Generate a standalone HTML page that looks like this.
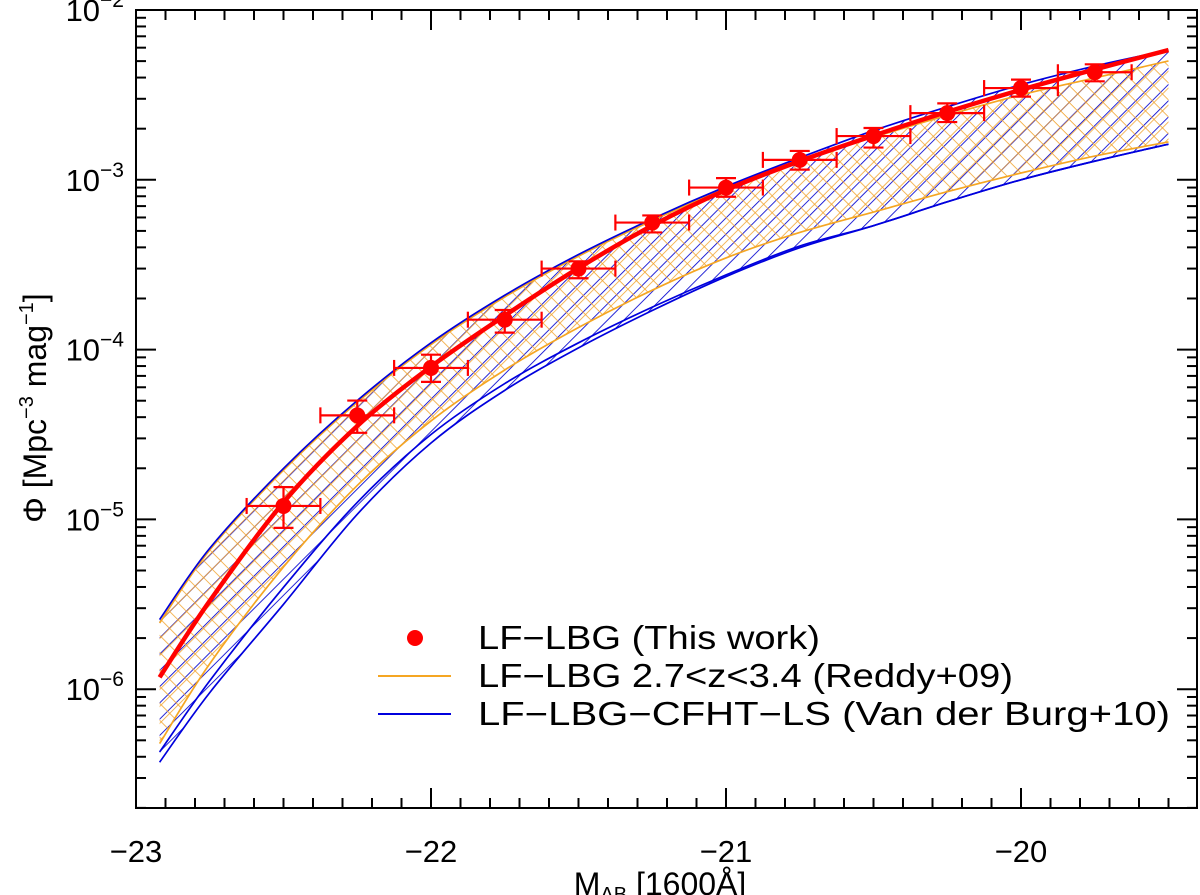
<!DOCTYPE html>
<html><head><meta charset="utf-8"><style>
html,body{margin:0;padding:0;background:#fff;}
svg{display:block;font-family:"Liberation Sans",Arial,sans-serif;}
</style></head><body>
<svg id="chart" width="1200" height="895" viewBox="0 0 1200 895" xmlns="http://www.w3.org/2000/svg">
<defs>
<pattern id="hatchBlue" patternUnits="userSpaceOnUse" width="11.5" height="11.5" patternTransform="rotate(45)">
<line x1="0" y1="0" x2="0" y2="11.5" stroke="#0000d0" stroke-width="1.7"/>
</pattern>
<pattern id="hatchOrange" patternUnits="userSpaceOnUse" width="12" height="12" patternTransform="rotate(45)">
<line x1="0" y1="0" x2="0" y2="12" stroke="#f2a531" stroke-width="1.6"/>
<line x1="0" y1="0" x2="12" y2="0" stroke="#f2a531" stroke-width="1.6"/>
</pattern>
</defs>
<g id="plot"></g>
<text x="660" y="895" font-size="32" text-anchor="middle">M<tspan font-size="20" dy="6">AB</tspan><tspan dy="-6"> [1600Å]</tspan></text>
<text transform="translate(46,408) rotate(-90)" font-size="32" text-anchor="middle">Φ [Mpc<tspan font-size="20" dy="-13">−3</tspan><tspan dy="13"> mag</tspan><tspan font-size="20" dy="-13">−1</tspan><tspan dy="13">]</tspan></text>
<g font-size="33">
<circle cx="415" cy="638" r="8" fill="#ff0000"/>
<text x="478" y="649" textLength="342" lengthAdjust="spacingAndGlyphs">LF−LBG (This work)</text>
<line x1="378" y1="676" x2="451" y2="676" stroke="#f5a623" stroke-width="2"/>
<text x="478" y="687" textLength="535" lengthAdjust="spacingAndGlyphs">LF−LBG 2.7&lt;z&lt;3.4 (Reddy+09)</text>
<line x1="378" y1="714" x2="451" y2="714" stroke="#0000dd" stroke-width="2"/>
<text x="478" y="725" textLength="692" lengthAdjust="spacingAndGlyphs">LF−LBG−CFHT−LS (Van der Burg+10)</text>
</g>
</svg>
<script>
// ---- data ----
const bandM = [-22.92,-22.75,-22.5,-22.25,-22,-21.75,-21.5,-21.25,-21,-20.75,-20.5,-20.25,-20,-19.75,-19.5];
const blueUpper   = [-5.59,-5.17,-4.70,-4.30,-3.96,-3.68,-3.44,-3.23,-3.04,-2.87,-2.71,-2.57,-2.44,-2.33,-2.236];
const orangeUpper = [-5.61,-5.18,-4.71,-4.31,-3.97,-3.69,-3.45,-3.24,-3.05,-2.89,-2.75,-2.62,-2.50,-2.40,-2.30];
const orangeLower = [-6.32,-5.85,-5.28,-4.80,-4.42,-4.12,-3.87,-3.65,-3.46,-3.31,-3.19,-3.07,-2.96,-2.86,-2.777];
const blueLowerA  = [-6.37,-5.95,-5.40,-4.90,-4.50,-4.20,-3.96,-3.75,-3.56,-3.39,-3.27,-3.13,-3.00,-2.89,-2.79];
const blueLowerB  = [-6.43,-6.02,-5.50,-4.97,-4.55,-4.24,-3.99,-3.77,-3.57,-3.40,-3.27,-3.13,-3.00,-2.89,-2.79];
const fitM = [-22.92,-22.75,-22.5,-22.25,-22,-21.75,-21.5,-21.25,-21,-20.75,-20.5,-20.25,-20,-19.75,-19.5];
const fitLog = [-5.93,-5.48,-4.90,-4.45,-4.10,-3.80,-3.52,-3.27,-3.06,-2.89,-2.74,-2.60,-2.47,-2.35,-2.236];
const ptM = [-22.5,-22.25,-22,-21.75,-21.5,-21.25,-21,-20.75,-20.5,-20.25,-20,-19.75];
const ptPhi = [1.2e-5,4.1e-5,7.8e-5,1.5e-4,3.0e-4,5.6e-4,9.0e-4,1.31e-3,1.81e-3,2.47e-3,3.47e-3,4.3e-3];
const ptErrHiLog = [-4.81,-4.30,-4.03,-3.767,-3.48,-3.21,-2.99,-2.83,-2.695,-2.55,-2.41,-2.32];
const ptErrLoLog = [-5.05,-4.49,-4.19,-3.90,-3.58,-3.31,-3.10,-2.94,-2.81,-2.66,-2.51,-2.42];
const ptHalfWidth = 0.125;
const xTicks = [-23,-22,-21,-20];
const xTickLabels = ["\u221223","\u221222","\u221221","\u221220"];
const yTicks = [-2,-3,-4,-5,-6];
const yTickExp = ["\u22122","\u22123","\u22124","\u22125","\u22126"];

// ---- axes ----
const L=136,R=1197,T=10,B=808;
const xMin=-23, pxPerMag=295;
const sx = m => L + (m - xMin)*pxPerMag;
const xMax = xMin + (R-L)/pxPerMag;
const pxPerDec = 169.8;
const sy = lg => T + (-2 - lg)*pxPerDec;
const yMinLog = -2 - (B-T)/pxPerDec;

const NS="http://www.w3.org/2000/svg";
const g=document.getElementById('plot');
function mk(tag, attrs, parent){const e=document.createElementNS(NS,tag);for(const k in attrs)e.setAttribute(k,attrs[k]);(parent||g).appendChild(e);return e;}

function spline(xs, ys){
  const p = xs.map((x,i)=>[sx(x), sy(ys[i])]);
  let d = `M${p[0][0]},${p[0][1]}`;
  for(let i=0;i<p.length-1;i++){
    const p0=p[Math.max(i-1,0)],p1=p[i],p2=p[i+1],p3=p[Math.min(i+2,p.length-1)];
    const c1=[p1[0]+(p2[0]-p0[0])/6,p1[1]+(p2[1]-p0[1])/6];
    const c2=[p2[0]-(p3[0]-p1[0])/6,p2[1]-(p3[1]-p1[1])/6];
    d+=` C${c1[0]},${c1[1]} ${c2[0]},${c2[1]} ${p2[0]},${p2[1]}`;
  }
  return d;
}
function bandPath(xs, up, lo){
  const a = spline(xs, up);
  const rx = xs.slice().reverse(), rl = lo.slice().reverse();
  const b = spline(rx, rl).replace(/^M/, 'L');
  return a + ' ' + b + ' Z';
}

// bands
const blueFill = mk('path',{d:bandPath(bandM,blueUpper,blueLowerB),fill:'url(#hatchBlue)',stroke:'none'});


const orFill = mk('path',{d:bandPath(bandM,orangeUpper,orangeLower),fill:'url(#hatchOrange)',stroke:'none'});


[[orangeUpper,'#f5a623','reddy-upper-line'],[orangeLower,'#f5a623','reddy-lower-line'],
 [blueUpper,'#0000dd','vdb-upper-line'],[blueLowerA,'#0000dd','vdb-lower-line-a'],[blueLowerB,'#0000dd','vdb-lower-line-b']].forEach(([arr,c,n])=>{
  const e=mk('path',{d:spline(bandM,arr),fill:'none',stroke:c,'stroke-width':1.7});
  
  
});

// fit
const fit = mk('path',{d:spline(fitM,fitLog),fill:'none',stroke:'#ff0000','stroke-width':4.5});



// points
ptM.forEach((m,i)=>{
  const gp = mk('g',{});
  
  
  const cx=sx(m), cy=sy(Math.log10(ptPhi[i]));
  const x1=sx(m-ptHalfWidth), x2=sx(m+ptHalfWidth);
  const yh=sy(ptErrHiLog[i]), yl=sy(ptErrLoLog[i]);
  const st={stroke:'#ff0000','stroke-width':2.2,fill:'none'};
  mk('line',Object.assign({x1:x1,y1:cy,x2:x2,y2:cy},st),gp);
  mk('line',Object.assign({x1:x1,y1:cy-8,x2:x1,y2:cy+8},st),gp);
  mk('line',Object.assign({x1:x2,y1:cy-8,x2:x2,y2:cy+8},st),gp);
  mk('line',Object.assign({x1:cx,y1:yh,x2:cx,y2:yl},st),gp);
  mk('line',Object.assign({x1:cx-10,y1:yh,x2:cx+10,y2:yh},st),gp);
  mk('line',Object.assign({x1:cx-10,y1:yl,x2:cx+10,y2:yl},st),gp);
  mk('circle',{cx:cx,cy:cy,r:8,fill:'#ff0000'},gp);
});

// frame & ticks
const ax = mk('g',{stroke:'#000','stroke-width':2});


mk('rect',{x:L,y:T,width:R-L,height:B-T,fill:'none'},ax);
for(let k=0;k<=Math.floor((xMax-xMin)*10+1e-6);k++){
  const m=xMin+k/10, x=sx(m);
  const major = Math.abs(m-Math.round(m))<1e-6;
  const len = major?20:10;
  mk('line',{x1:x,y1:B,x2:x,y2:B-len},ax);
  mk('line',{x1:x,y1:T,x2:x,y2:T+len},ax);
}
for(let d=-2; d>=-7; d--){
  for(let f=2; f<=9; f++){
    const lg = d-1+Math.log10(f);
    if(lg<yMinLog||lg>-2) continue;
    const y=sy(lg);
    mk('line',{x1:L,y1:y,x2:L+10,y2:y},ax);
    mk('line',{x1:R,y1:y,x2:R-10,y2:y},ax);
  }
  if(d>=yMinLog){const y=sy(d);mk('line',{x1:L,y1:y,x2:L+20,y2:y},ax);mk('line',{x1:R,y1:y,x2:R-20,y2:y},ax);}
}
xTicks.forEach((m,i)=>{
  const t=mk('text',{x:sx(m),y:B+54,'font-size':31,'text-anchor':'middle',fill:'#000'});
  t.textContent=xTickLabels[i];
  
  
});
yTicks.forEach((lg,i)=>{
  const t=mk('text',{x:L-12,y:sy(lg)+11,'font-size':31,'text-anchor':'end',fill:'#000'});
  
  
  const a=mk('tspan',{},t); a.textContent='10';
  const b=mk('tspan',{dy:-14,'font-size':21},t); b.textContent=yTickExp[i];
});
</script>
</body></html>
